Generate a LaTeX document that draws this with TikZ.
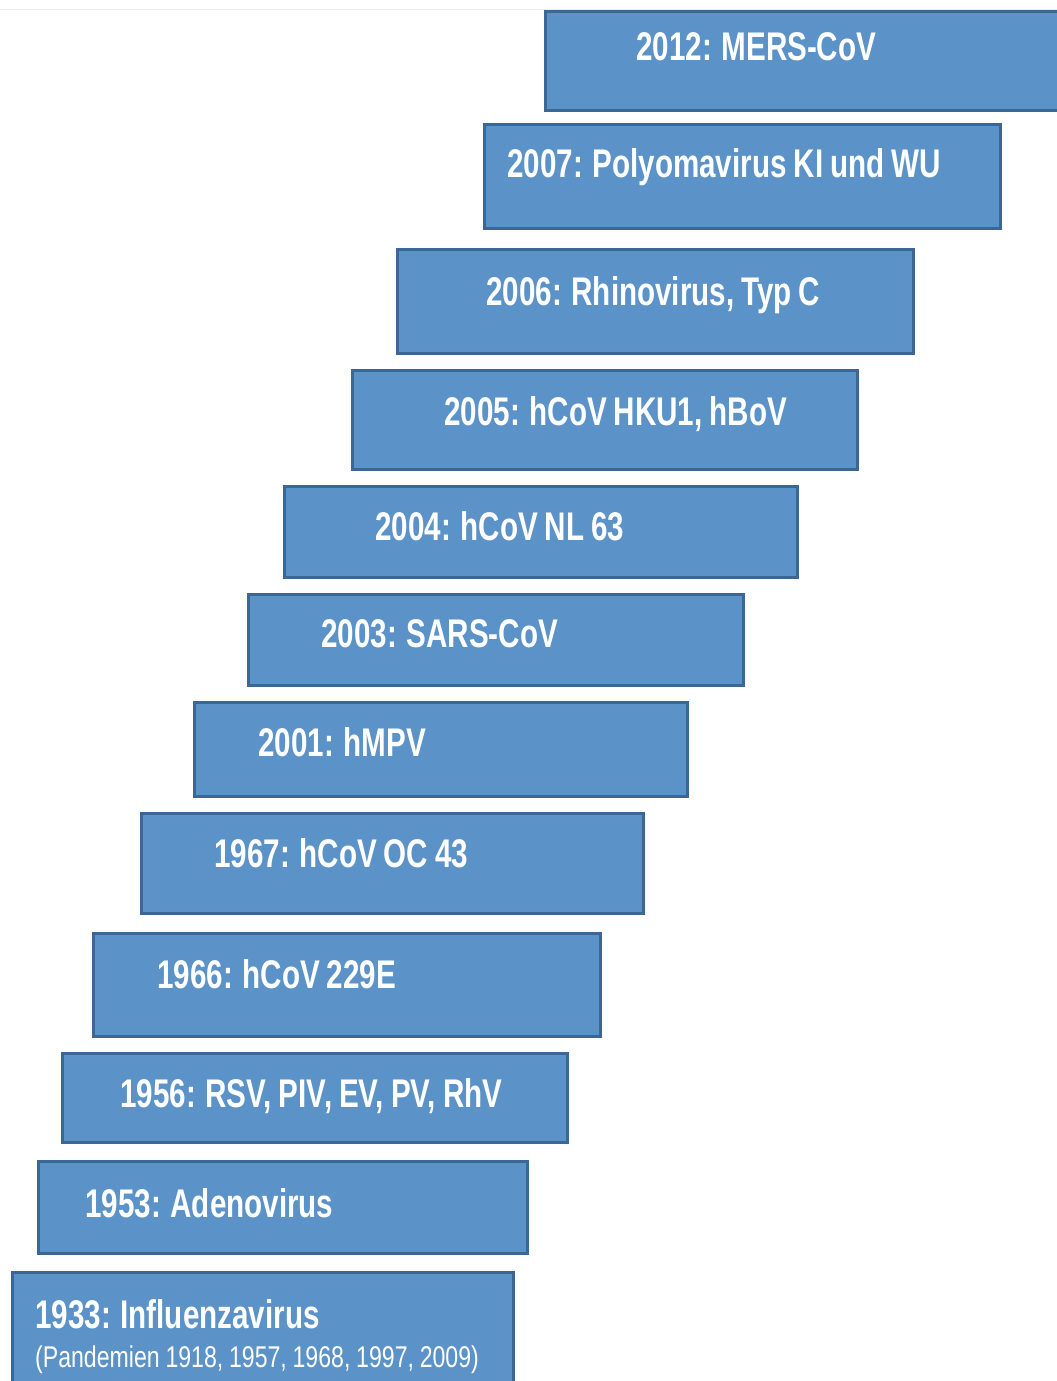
\documentclass[tikz,border=0pt]{standalone}
\usepackage{fontspec}
\newfontfamily\narrow{Liberation Sans}[FakeStretch=0.74,WordSpace=0.85]
\newfontfamily\narrowreg{Liberation Sans}[FakeStretch=0.77,WordSpace=0.9]
\definecolor{boxfill}{HTML}{5B93C8}
\definecolor{boxline}{HTML}{3A6794}
\begin{document}
\begin{tikzpicture}[x=1pt,y=-1pt,
  box/.style={draw=boxline, fill=boxfill, line width=3pt, rectangle, anchor=north west, inner sep=0pt, outer sep=0pt},
  lbl/.style={anchor=base west, inner sep=0pt, text=white, font=\narrow\bfseries\fontsize{40}{48}\selectfont},
  sub/.style={anchor=base west, inner sep=0pt, text=white, font=\narrowreg\fontsize{30}{36}\selectfont}]
\useasboundingbox (0,0) rectangle (1057,1381);
\clip (0,0) rectangle (1057,1381);
\fill[white] (0,0) rectangle (1057,1381);
\draw[black!8, line width=1pt] (0,10) -- (1057,10);
% boxes
\node[box, minimum width=520, minimum height=98] (b2012) at (545,12) {};
\node[box, minimum width=516, minimum height=104] (b2007) at (484,124) {};
\node[box, minimum width=516, minimum height=104] (b2006) at (397,249) {};
\node[box, minimum width=505, minimum height=99] (b2005) at (352,370) {};
\node[box, minimum width=513, minimum height=91] (b2004) at (284,486) {};
\node[box, minimum width=495, minimum height=91] (b2003) at (248,594) {};
\node[box, minimum width=493, minimum height=94] (b2001) at (194,702) {};
\node[box, minimum width=502, minimum height=100] (b1967) at (141,813) {};
\node[box, minimum width=507, minimum height=103] (b1966) at (93,933) {};
\node[box, minimum width=505, minimum height=89] (b1956) at (62,1053) {};
\node[box, minimum width=489, minimum height=92] (b1953) at (38,1161) {};
\node[box, minimum width=501, minimum height=130] (b1933) at (12,1272) {};
% labels
\node[lbl] (t2012) at (636,60) {2012: MERS-CoV};
\node[lbl] (t2007) at (507,177) {2007: Polyomavirus KI und WU};
\node[lbl] (t2006) at (486,305) {2006: Rhinovirus, Typ C};
\node[lbl] (t2005) at (444,425) {2005: hCoV HKU1, hBoV};
\node[lbl] (t2004) at (375,540) {2004: hCoV NL 63};
\node[lbl] (t2003) at (321,647) {2003: SARS-CoV};
\node[lbl] (t2001) at (258,756) {2001: hMPV};
\node[lbl] (t1967) at (214,867) {1967: hCoV OC 43};
\node[lbl] (t1966) at (157,988) {1966: hCoV 229E};
\node[lbl] (t1956) at (120,1107) {1956: RSV, PIV, EV, PV, RhV};
\node[lbl] (t1953) at (85,1217) {1953: Adenovirus};
\node[lbl] (t1933) at (35,1328) {1933: Influenzavirus};
\node[sub] (s1933) at (35,1367) {(Pandemien 1918, 1957, 1968, 1997, 2009)};
\end{tikzpicture}
\end{document}
